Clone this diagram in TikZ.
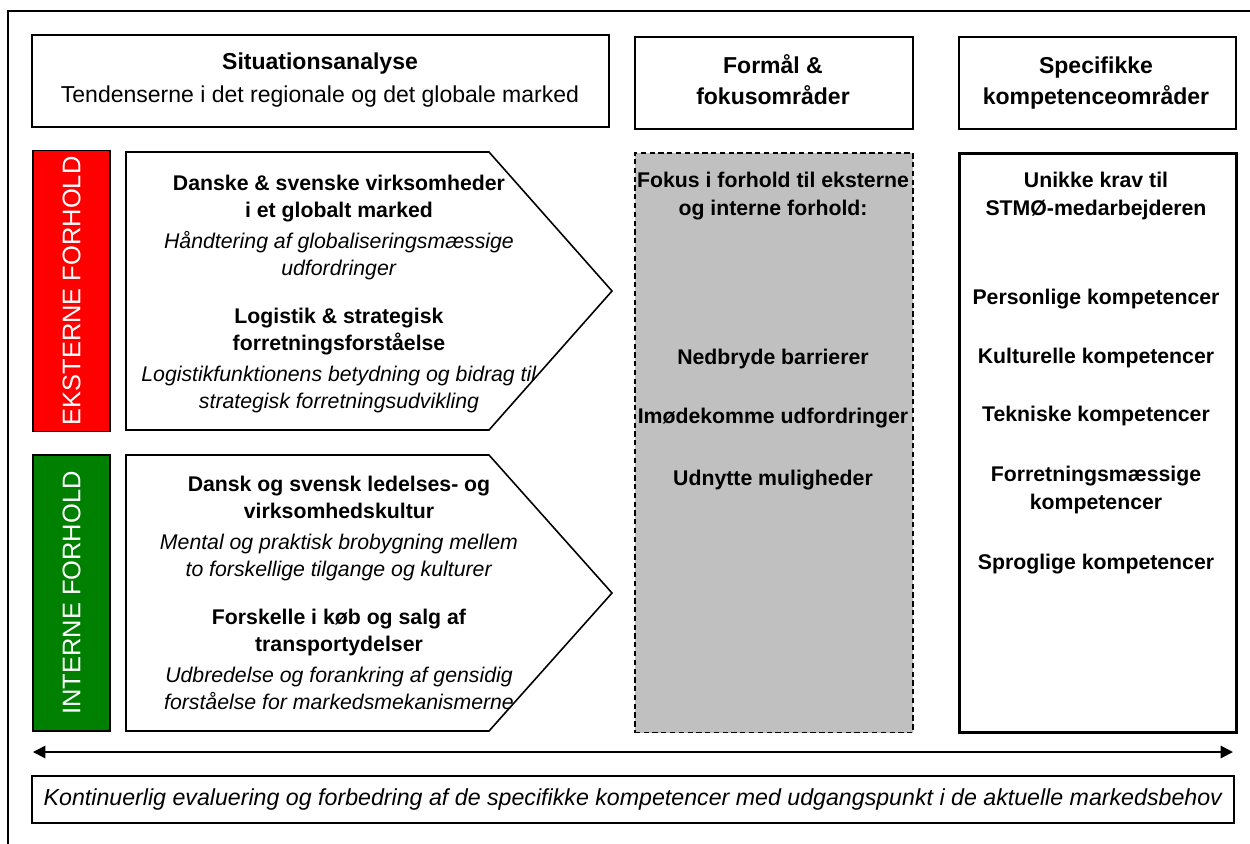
\documentclass[tikz,border=0pt]{standalone}
\usepackage{fontspec}
\setmainfont{Liberation Sans}
\usetikzlibrary{arrows.meta, positioning}

\definecolor{ekstred}{RGB}{255,0,0}
\definecolor{intgreen}{RGB}{0,128,0}
\definecolor{fokusgray}{RGB}{192,192,192}

\begin{document}
\begin{tikzpicture}[
  x=0.02cm, y=-0.02cm,
  box/.style={draw, line width=1.1pt, anchor=north west, inner sep=0pt},
  sidebox/.style={draw, line width=0.8pt, rotate=90, text=white,
                  minimum height=1.54cm, font=\fontsize{14.5}{17}\selectfont},
  chevron/.style={draw, line width=0.9pt},
  headtext/.style={anchor=base, align=center, font=\fontsize{13.1}{17.6}\selectfont},
  bodytext/.style={anchor=base, align=center, font=\fontsize{12.1}{15.3}\selectfont},
  boldtext/.style={bodytext, font=\fontsize{12.1}{15.8}\selectfont\bfseries},
  arrow/.style={{Triangle[length=7pt,width=7pt]}-{Triangle[length=7pt,width=7pt]},
                line width=1.1pt},
]
\useasboundingbox (0,0) rectangle (1250,843);
\clip (0,0) rectangle (1250,843);

% ---- ramme ----
\draw[line width=1.2pt] (8,900) -- (8,11) -- (1300,11);

% ---- overskrifter ----
\node[box, minimum width=11.54cm, minimum height=1.84cm] (sitbox) at (31,34) {};
\node[headtext] (sit) at (320,102) {\textbf{Situationsanalyse}\\[1.1pt] Tendenserne i det regionale og det globale marked};
\node[box, minimum width=5.56cm, minimum height=1.84cm] (formbox) at (634,36) {};
\node[headtext, font=\fontsize{13.1}{17.6}\selectfont\bfseries] (form) at (773,104) {Formål \&\\fokusområder};
\node[box, minimum width=5.54cm, minimum height=1.84cm] (specbox) at (958,36) {};
\node[headtext, font=\fontsize{13.1}{17.6}\selectfont\bfseries] (spec) at (1096,104) {Specifikke\\kompetenceområder};

% ---- forhold ----
\node[sidebox, fill=ekstred, minimum width=5.56cm] (ekst) at (71.5,291) {EKSTERNE FORHOLD};
\node[sidebox, fill=intgreen, minimum width=5.52cm] (intr) at (71.5,593) {INTERNE FORHOLD};

\draw[chevron] (126,152) -- (489,152) -- (612,291) -- (489,430) -- (126,430) -- cycle;
\draw[chevron] (126,455) -- (489,455) -- (612,593) -- (489,731) -- (126,731) -- cycle;

\node[bodytext] (ekstext) at (339,408) {%
  \textbf{Danske \& svenske virksomheder}\\
  \textbf{i et globalt marked}\\[2.3pt]
  \textit{Håndtering af globaliseringsmæssige}\\
  \textit{udfordringer}\\[11.9pt]
  \textbf{Logistik \& strategisk}\\
  \textbf{forretningsforståelse}\\[2.3pt]
  \textit{Logistikfunktionens betydning og bidrag til}\\
  \textit{strategisk forretningsudvikling}};

\node[bodytext] (intext) at (339,709) {%
  \textbf{Dansk og svensk ledelses- og}\\
  \textbf{virksomhedskultur}\\[2.3pt]
  \textit{Mental og praktisk brobygning mellem}\\
  \textit{to forskellige tilgange og kulturer}\\[11.9pt]
  \textbf{Forskelle i køb og salg af}\\
  \textbf{transportydelser}\\[2.3pt]
  \textit{Udbredelse og forankring af gensidig}\\
  \textit{forståelse for markedsmekanismerne}};

% ---- fokus ----
\node[box, dashed, dash pattern=on 3pt off 2pt, line width=0.9pt, fill=fokusgray,
      minimum width=5.56cm, minimum height=11.6cm] (fokusbox) at (634,152) {};
\node[boldtext] (fokus) at (773,215) {Fokus i forhold til eksterne\\og interne forhold:};
\node[boldtext] (nedbryde) at (773,364) {Nedbryde barrierer};
\node[boldtext] (imode) at (773,423) {Imødekomme udfordringer};
\node[boldtext] (udnytte) at (773,485) {Udnytte muligheder};

% ---- kompetencer ----
\node[box, line width=1.7pt, minimum width=5.54cm, minimum height=11.58cm] (kompbox) at (958,152) {};
\node[boldtext] (krav) at (1096,215) {Unikke krav til\\STMØ-medarbejderen};
\node[boldtext] (pers) at (1096,304) {Personlige kompetencer};
\node[boldtext] (kult) at (1096,363) {Kulturelle kompetencer};
\node[boldtext] (tekn) at (1096,421) {Tekniske kompetencer};
\node[boldtext] (forr) at (1096,509) {Forretningsmæssige\\kompetencer};
\node[boldtext] (sprog) at (1096,569) {Sproglige kompetencer};

% ---- evaluering ----
\coordinate (evstart) at (33,752);
\coordinate (evend) at (1233,752);
\draw[arrow] (evstart) -- (evend);
\node[box, minimum width=24.04cm, minimum height=0.94cm] (evbox) at (31,775) {};
\node[bodytext, anchor=center, font=\fontsize{13.2}{15}\selectfont\itshape] (ev) at (evbox.center)
  {Kontinuerlig evaluering og forbedring af de specifikke kompetencer med udgangspunkt i de aktuelle markedsbehov};

\end{tikzpicture}
\end{document}
